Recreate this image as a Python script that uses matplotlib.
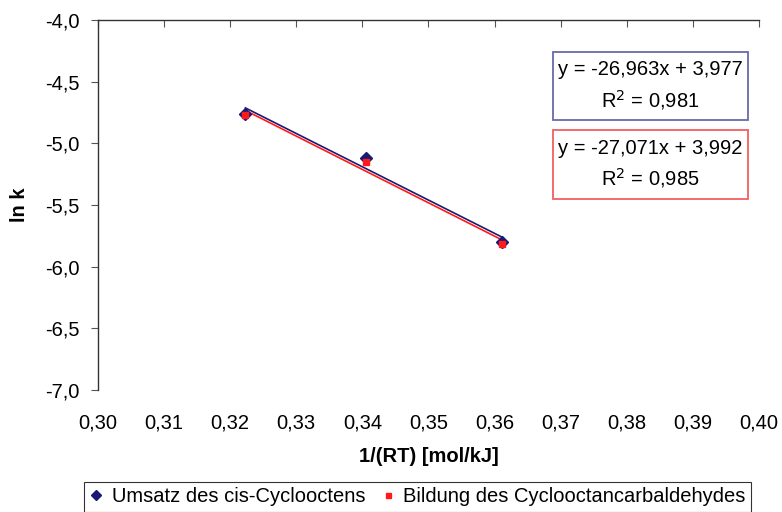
import numpy as np
import matplotlib
matplotlib.use("Agg")
import matplotlib.pyplot as plt
from matplotlib.ticker import FuncFormatter, MultipleLocator
from matplotlib.patches import Rectangle

plt.rcParams['font.family'] = ['Liberation Sans', 'DejaVu Sans']

x_vals = [0.3223, 0.3406, 0.3611]
umsatz = [-4.760, -5.117, -5.802]
bildung = [-4.774, -5.151, -5.819]
series_names = ["Umsatz des cis-Cyclooctens", "Bildung des Cyclooctancarbaldehydes"]
eq_texts = ["y = -26,963x + 3,977\nR$^2$ = 0,981", "y = -27,071x + 3,992\nR$^2$ = 0,985"]

blue = '#1a1a72'
red = '#ff1a1a'
FS = 14.5

W, H = 782, 512
fig = plt.figure(figsize=(W/100, H/100), dpi=100)
ax = fig.add_axes([98/W, 1-390/H, (759-98)/W, (390-20)/H])

x = np.array(x_vals)
for yv, col, mk, ms, name in [(umsatz, blue, 'D', 6.5, series_names[0]),
                              (bildung, red, 's', 4.5, series_names[1])]:
    yv = np.array(yv)
    p = np.polyfit(x, yv, 1)
    xl = np.array([x.min(), x.max()])
    ax.plot(xl, np.polyval(p, xl), color=col, lw=1.2, zorder=2)
    ax.plot(x, yv, linestyle='none', marker=mk, ms=ms, color=col, label=name, zorder=3)

ax.set_xlim(0.30, 0.40)
ax.set_ylim(-7.0, -4.0)
ax.xaxis.set_major_locator(MultipleLocator(0.01))
ax.yaxis.set_major_locator(MultipleLocator(0.5))
fmt2 = FuncFormatter(lambda v, p: f"{v:.2f}".replace('.', ','))
fmt1 = FuncFormatter(lambda v, p: f"{v:.1f}".replace('.', ','))
ax.xaxis.set_major_formatter(fmt2)
ax.yaxis.set_major_formatter(fmt1)

for s in ['right', 'bottom']:
    ax.spines[s].set_visible(False)
for s in ['left', 'top']:
    ax.spines[s].set_color('#333333')
    ax.spines[s].set_linewidth(1.0)

ax.tick_params(axis='x', top=True, bottom=False, labeltop=False, labelbottom=True,
               direction='in', length=5, color='#555555', labelsize=FS, pad=17)
ax.tick_params(axis='y', direction='out', length=5, color='#555555', labelsize=FS, pad=8)

ax.set_xlabel("1/(RT) [mol/kJ]", fontsize=FS, fontweight='bold')
ax.set_ylabel("ln k", fontsize=FS, fontweight='bold')
ax.xaxis.set_label_coords(0.5, -(447-390)/370)
ax.yaxis.set_label_coords(-(98-29)/661, 0.5)

# equation boxes
for (top, bot, ec), txt in zip([(52, 120, '#6a6aa8'), (130, 199, '#f06060')], eq_texts):
    fig.patches.append(Rectangle((553/W, 1-bot/H), (748-553)/W, (bot-top)/H,
                                 transform=fig.transFigure, fill=True, fc='white',
                                 ec=ec, lw=1.3, zorder=5))
    fig.text(650.5/W, 1-(top+bot)/2/H, txt, ha='center', va='center', fontsize=FS,
             linespacing=1.45, zorder=6)

leg = fig.legend(loc='center', bbox_to_anchor=(417.5/W, 1-497/H), ncol=2, fontsize=FS,
                 frameon=True, fancybox=False, edgecolor='black', handlelength=0.7,
                 handletextpad=0.4, columnspacing=0.8, borderpad=0.25, markerscale=0.8)
leg.get_frame().set_linewidth(0.8)

fig.savefig('out.png', dpi=100)
